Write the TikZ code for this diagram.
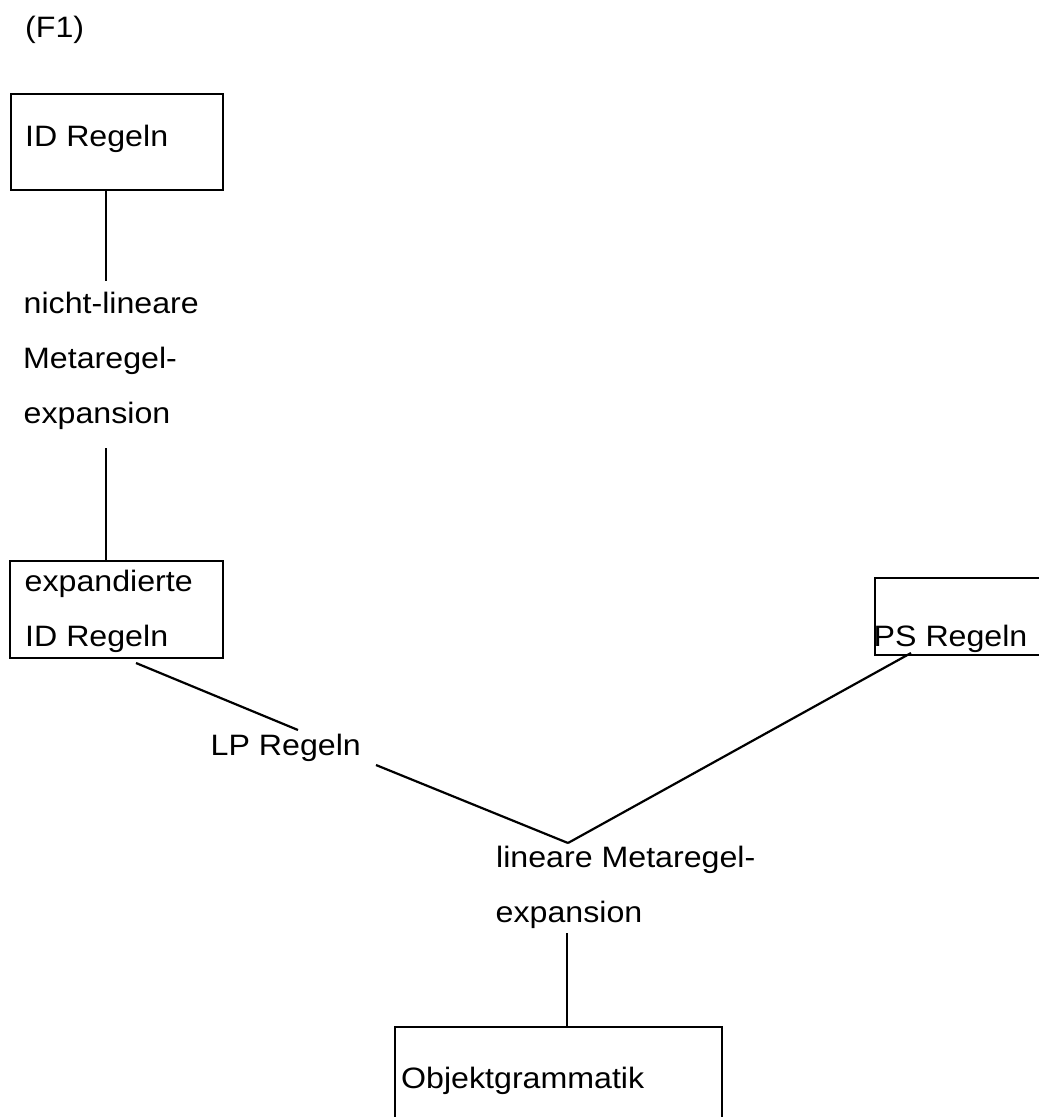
\documentclass[tikz,border=0pt]{standalone}
\usepackage{fontspec}
\setmainfont{Liberation Sans}[FakeStretch=1.09]
\begin{document}
\begin{tikzpicture}[x=1pt,y=-1pt,
  lbl/.style={anchor=base west,inner sep=0pt,font=\fontsize{29.5}{35}\selectfont},
  frame/.style={draw,line width=2.2pt,anchor=north west,inner sep=0pt},
  link/.style={line width=2.2pt}]
\useasboundingbox (0,0) rectangle (1039,1117);
\clip (0,0) rectangle (1039,1117);

% label of the figure
\node[lbl] (f1) at (25,37) {(F1)};

% frames
\node[frame,minimum width=212pt,minimum height=96pt] (idbox) at (10,93) {};
\node[frame,minimum width=213pt,minimum height=97pt] (expbox) at (9,560) {};
\node[frame,minimum width=200pt,minimum height=77pt] (psbox) at (874,577) {};
\node[frame,minimum width=327pt,minimum height=120pt] (objbox) at (394,1026) {};

% texts
\node[lbl] (idtxt) at (25,146) {ID Regeln};
\node[lbl] (nl1) at (23.5,313) {nicht-lineare};
\node[lbl] (nl2) at (23,368) {Metaregel-};
\node[lbl] (nl3) at (23.5,423) {expansion};
\node[lbl] (exp1) at (24.5,591) {expandierte};
\node[lbl] (exp2) at (25,646) {ID Regeln};
\node[lbl] (lp) at (210.5,755) {LP Regeln};
\node[lbl] (ps) at (873.5,646) {PS Regeln};
\node[lbl] (lm1) at (496,867) {lineare Metaregel-};
\node[lbl] (lm2) at (495.5,922) {expansion};
\node[lbl] (obj) at (401,1088) {Objektgrammatik};

% connector end points
\coordinate (a1) at (106,281);
\coordinate (a2) at (106,448);
\coordinate (b1) at (136,663);
\coordinate (b2) at (298,730);
\coordinate (c1) at (376,765);
\coordinate (j)  at (568,843);
\coordinate (d1) at (911,653);
\coordinate (e1) at (567,933);

% connectors
\draw[link] (idbox.south -| a1) -- (a1);
\draw[link] (a2) -- (expbox.north -| a2);
\draw[link] (b1) -- (b2);
\draw[link] (c1) -- (j);
\draw[link] (d1) -- (j);
\draw[link] (e1) -- (objbox.north -| e1);
\end{tikzpicture}
\end{document}
